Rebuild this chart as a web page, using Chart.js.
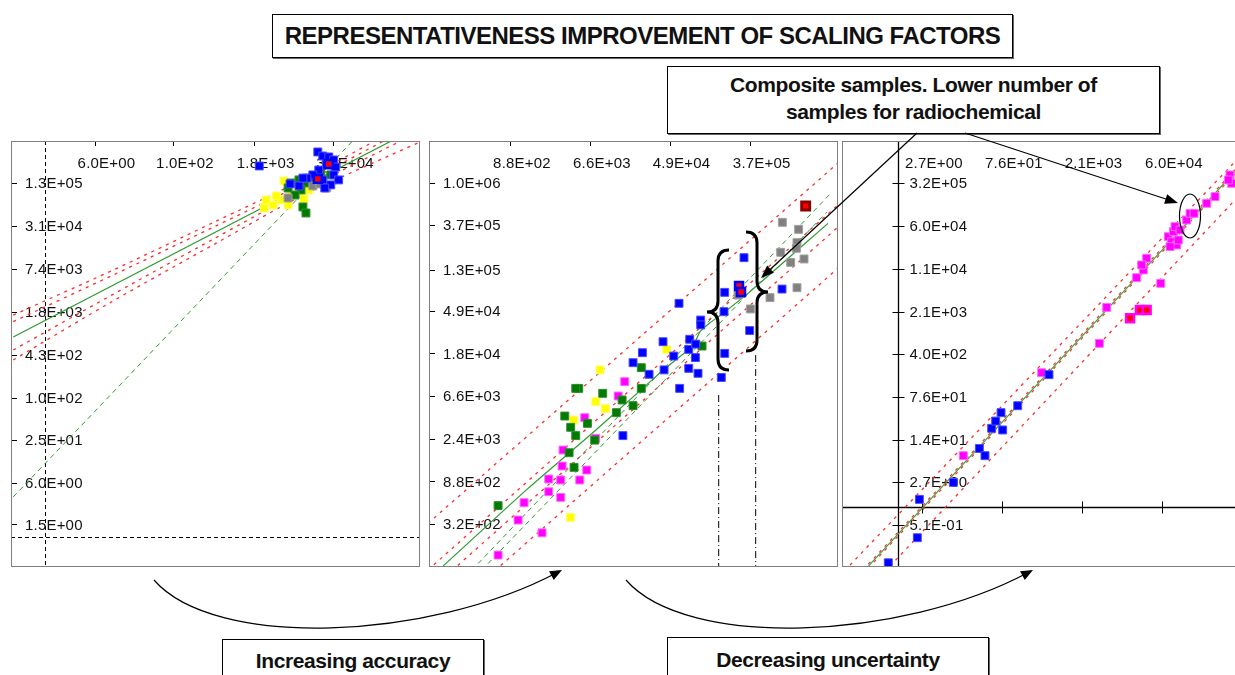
<!DOCTYPE html>
<html>
<head>
<meta charset="utf-8">
<script src="https://cdn.jsdelivr.net/npm/chart.js@4.4.0/dist/chart.umd.min.js"></script>
<style>
html, body { margin: 0; padding: 0; overflow: hidden; background: #fff; }
body { width: 1235px; height: 675px; position: relative; font-family: "Liberation Sans", Arial, sans-serif; }
.box { position: absolute; border: 1px solid #000; box-shadow: 1px 1px 0 #666; background: #fff; text-align: center; font-weight: bold; color: #111; box-sizing: border-box; white-space: nowrap; }
.panel { position: absolute; top: 141px; width: 409px; height: 426px; }
.panel canvas { position: absolute; left: 0; top: 0; }
.frame { position: absolute; left: 0; top: 0; width: 409px; height: 426px; border: 1px solid #808080; box-sizing: border-box; pointer-events: none; }
#overlay { position: absolute; left: 0; top: 0; pointer-events: none; }
</style>
</head>
<body>

<div class="box" style="left:272px;top:14px;width:741px;height:44px;line-height:41px;font-size:24px;letter-spacing:-0.5px;">REPRESENTATIVENESS IMPROVEMENT OF SCALING FACTORS</div>
<div class="box" style="left:667px;top:66px;width:493px;height:68px;padding-top:4px;line-height:27px;font-size:21px;letter-spacing:-0.4px;">Composite samples. Lower number of<br>samples for radiochemical</div>

<div class="panel" style="left:11px"><canvas id="p1" width="409" height="426"></canvas><div class="frame"></div></div>
<div class="panel" style="left:429px"><canvas id="p2" width="409" height="426"></canvas><div class="frame"></div></div>
<div class="panel" style="left:842px"><canvas id="p3" width="409" height="426"></canvas><div class="frame"></div></div>

<div class="box" style="left:222px;top:639px;width:262px;height:60px;line-height:42px;font-size:21px;letter-spacing:-0.4px;">Increasing accuracy</div>
<div class="box" style="left:667px;top:637px;width:322px;height:60px;line-height:44px;font-size:21px;letter-spacing:-0.4px;">Decreasing uncertainty</div>

<canvas id="overlay" width="1235" height="675"></canvas>

<script>
// ---- panel 1 : few samples, poor spread ----
const p1TicksX = [6.0, 100, 1800, 31000];
const p1TicksY = [1.3e5, 3.1e4, 7.4e3, 1.8e3, 430, 100, 25, 6.0, 1.5];
const p1Blue = [[2190,229000],[17860,365000],[21330,319000],[26420,309000],[31550,280000],[24600,237000],[33880,221000],[18500,200000],[14960,170000],[21330,144000],[31550,170000],[37670,144000],[28380,122000],[12080,153000],[9100,118000],[22910,110000],[6600,126000],[10470,153000]];
const p1BlueRed = [[26420,245000],[17860,149000]];
const p1Green = [[6840,130000],[9100,144000],[11670,130000],[13930,153000],[9770,103000],[19860,188000],[28380,170000],[10470,58500],[11670,47900],[7890,87100],[6150,110000]];
const p1Yellow = [[5330,139000],[2810,73800],[3610,62500],[4800,73800],[2620,56500],[6840,87100],[8770,96400],[12970,103000],[14960,122000],[18500,144000],[6150,62500],[4020,84300],[10860,76400]];
const p1Gray = [[6150,78900],[14960,118000],[24600,110000],[19180,126000]];
const p1Fit = [[0.325,771],[266000,544000]];
const p1Sf = [[0.325,3.75],[64300,544000]];
const p1Upper2 = [[0.325,1600],[11.4,7100],[398,34000],[11000,149000],[695000,1.20e6]];
const p1Upper1 = [[0.325,1285],[11.4,6010],[398,29100],[11000,130000],[695000,1.01e6]];
const p1Lower1 = [[0.325,500],[11.4,3160],[398,19500],[11000,104000],[695000,726000]];
const p1Lower2 = [[0.325,359],[11.4,2530],[398,16100],[11000,88300],[695000,509000]];

// ---- panel 2 : more samples ----
const p2TicksX = [880, 6600, 49000, 370000];
const p2TicksY = [1.0e6, 3.7e5, 1.3e5, 4.9e4, 1.8e4, 6.6e3, 2.4e3, 880, 320];
const p2Magenta = [[650,155],[1076,354],[1968,262],[1250,533],[2330,690],[2330,931],[3150,910],[3150,604],[3260,1265],[5090,910],[6070,1151],[3340,1845],[7610,2430],[5770,3955],[13400,6590],[15800,9240]];
const p2Yellow = [[8490,12200],[7610,5770],[9710,4890],[4370,3740],[45500,19800],[4020,377]];
const p2Green = [[650,497],[4960,7890],[4600,7890],[9080,7020],[3490,4110],[14800,6000],[19500,5250],[12800,4450],[4050,3150],[6170,3460],[4600,2590],[7420,2330],[3890,1730],[4410,1225],[24000,12850],[24000,7890],[110900,21400]];
const p2Blue = [[15100,2590],[24700,18300],[19500,14450],[29200,11000],[41500,23700],[42600,12200],[54300,16900],[63100,7890],[62100,58600],[81300,25100],[79300,19800],[94600,22400],[93800,16300],[79300,12650],[100200,11250],[107200,39500],[107200,35200],[180300,10200],[196300,18000],[193000,48100],[196300,75900],[319300,171800],[368300,30800],[832000,82000]];
const p2BlueRed = [[281600,88100],[296300,76600]];
const p2DarkRed = [[1.51e6,580700]];
const p2Gray = [[839000,395400],[1.265e6,335000],[1.213e6,244900],[1.194e6,214300],[805000,195000],[1.035e6,153800],[1.449e6,166700],[1.213e6,84700],[615000,67000],[374800,51300],[274800,71300]];
const p2Fit = [[163,120],[1384,747],[7430,2885],[39800,11700],[89100,21900],[105400,30000],[135500,37100],[167500,42700],[353000,74100],[2.65e6,386000]];
const p2Sf1 = [[337,109],[2.93e6,809000]];
const p2Sf2 = [[431,109],[2.58e6,505000]];
const p2OutUp = [[111,327],[3.41e6,1.60e6]];
const p2OutLow = [[597,107],[3.41e6,134000]];
const p2InUp = [[111,109],[3.41e6,595000]];
const p2InLow = [[111,64.9],[3.41e6,354000]];
const p2Mark1 = [[168700,6740],[168700,100]];
const p2Mark2 = [[428500,17300],[428500,100]];

// ---- panel 3 : composite samples ----
const p3TicksX = [2.7, 76, 2100, 60000];
const p3TicksY = [3.2e5, 6.0e4, 1.1e4, 2.1e3, 400, 76, 14, 2.7, 0.51];
const p3Blue = [[0.662,0.115],[2.22,0.306],[2.42,1.37],[9.97,2.66],[29.5,10.0],[37.3,7.55],[49.3,22.0],[58.2,29.2],[72.8,40.5],[78.0,20.6],[146,53.2],[538,179]];
const p3Magenta = [[15.1,7.55],[396,193],[4390,608],[5970,2480],[56700,6340],[20800,7920],[27500,10700],[31600,16900],[25700,13000],[78000,39300],[89700,32300],[96100,47800],[110400,28400],[118300,34500],[103000,58100],[83700,26600],[127000,51000],[167500,75300],[192600,97700],[227600,97700],[386000,144500],[547000,187500],[1.02e6,437500],[1.09e6,316000],[953000,360000]];
const p3MagentaRed = [[15800,1620],[23900,2240],[31600,2240]];
const p3Fit = [[0.288,0.101],[1.26e6,499000]];
const p3In1 = [[0.288,0.109],[1.26e6,540000]];
const p3In2 = [[0.288,0.0935],[1.26e6,461000]];
const p3OutUp = [[0.134,0.105],[1.26e6,736000]];
const p3OutLow = [[0.711,0.101],[1.26e6,165000]];

function fmt(v) {
    let e = Math.floor(Math.log10(v));
    let m = v / Math.pow(10, e);
    if (Math.round(m * 10) >= 100) { m /= 10; e += 1; }
    const s = e < 0 ? '-' : '+';
    return m.toFixed(1) + 'E' + s + String(Math.abs(e)).padStart(2, '0');
}

// tick marks, labels and the unit axes, placed with the chart's scales
const axesPlugin = {
    id: 'panelAxes',
    beforeDatasetsDraw(chart, args, opts) {
        const ctx = chart.ctx, xs = chart.scales.x, ys = chart.scales.y, a = chart.chartArea;
        const ax = Math.round(xs.getPixelForValue(1)) + 0.5;
        const ay = Math.round(ys.getPixelForValue(1)) + 0.5;
        ctx.save();
        ctx.strokeStyle = '#000';
        ctx.lineWidth = 1;
        if (opts.unitAxes) {
            ctx.setLineDash(opts.unitAxes === 'dashed' ? [4, 3] : []);
            ctx.lineWidth = opts.unitAxes === 'dashed' ? 1 : 1.3;
            ctx.beginPath();
            ctx.moveTo(ax, a.top); ctx.lineTo(ax, a.bottom);
            ctx.moveTo(a.left, ay); ctx.lineTo(a.right, ay);
            ctx.stroke();
            ctx.setLineDash([]);
        }
        ctx.lineWidth = 1;
        ctx.beginPath();
        opts.ticksX.forEach(v => {
            const x = Math.round(xs.getPixelForValue(v)) + 0.5;
            if (opts.onAxes) { ctx.moveTo(x, ay - 6); ctx.lineTo(x, ay + 6); }
            else { ctx.moveTo(x, a.top); ctx.lineTo(x, a.top + 5); }
        });
        opts.ticksY.forEach(v => {
            const y = Math.round(ys.getPixelForValue(v)) + 0.5;
            if (opts.onAxes) { ctx.moveTo(ax - 6, y); ctx.lineTo(ax + 6, y); }
            else { ctx.moveTo(a.left + 1, y); ctx.lineTo(a.left + 6, y); }
        });
        ctx.stroke();

        ctx.fillStyle = '#111';
        ctx.font = '15px "Liberation Sans", Arial, sans-serif';
        ctx.letterSpacing = '0.2px';
        ctx.textAlign = 'left';
        ctx.textBaseline = 'middle';
        opts.ticksX.forEach(v => {
            ctx.fillText(fmt(v), xs.getPixelForValue(v) - 17, a.top + 23);
        });
        const lx = opts.onAxes ? ax + 11 : a.left + 14;
        opts.ticksY.forEach(v => {
            ctx.fillText(fmt(v), lx, ys.getPixelForValue(v) + 1);
        });
        ctx.restore();
    }
};

function pts(data, fill, edge, order, width) {
    return {
        data: data.map(([x, y]) => ({ x, y })),
        backgroundColor: fill,
        borderColor: edge,
        borderWidth: width || 1,
        pointStyle: 'rect',
        pointRadius: 5.6,
        showLine: false,
        order: order
    };
}

function line(data, color, dash, width, tension) {
    return {
        data: data.map(([x, y]) => ({ x, y })),
        showLine: true,
        borderColor: color,
        borderWidth: width || 1,
        borderDash: dash || [],
        pointRadius: 0,
        fill: false,
        tension: tension || 0,
        order: 20
    };
}

const RED = '#ff2a2a', RED_DASH = [3, 5];
const GREEN = '#2f9a2f', GREEN_DASH = [5, 4];

function makePanel(id, datasets, xr, yr, axisOpts) {
    return new Chart(document.getElementById(id), {
        type: 'scatter',
        data: { datasets },
        options: {
            responsive: false,
            animation: false,
            events: [],
            layout: { padding: 0, autoPadding: false },
            plugins: { legend: { display: false }, tooltip: { enabled: false }, panelAxes: axisOpts },
            scales: {
                x: { type: 'logarithmic', min: xr[0], max: xr[1], display: false },
                y: { type: 'logarithmic', min: yr[0], max: yr[1], display: false }
            }
        },
        plugins: [axesPlugin]
    });
}

makePanel('p1', [
    pts(p1BlueRed, '#ff0000', '#0000ff', 0, 2.5),
    pts(p1Blue, '#0000ff', '#4a4aff', 1),
    pts(p1Gray, '#808080', '#a0a0a0', 2),
    pts(p1Green, '#007a00', '#2e8f2e', 3),
    pts(p1Yellow, '#ffff00', '#ffff70', 4),
    line(p1Fit, GREEN, [], 1.2),
    line(p1Sf, GREEN, GREEN_DASH, 1),
    line(p1Upper2, RED, RED_DASH, 1.3, 0.3),
    line(p1Upper1, RED, RED_DASH, 1.3, 0.3),
    line(p1Lower1, RED, RED_DASH, 1.3, 0.3),
    line(p1Lower2, RED, RED_DASH, 1.3, 0.3)
], [0.337, 6.95e5], [0.364, 5.26e5], { ticksX: p1TicksX, ticksY: p1TicksY, unitAxes: 'dashed', onAxes: false });

makePanel('p2', [
    pts(p2DarkRed, '#ff0000', '#8b0000', 0, 3),
    pts(p2BlueRed, '#ff0000', '#0000ff', 0, 2.5),
    pts(p2Blue, '#0000ff', '#4a4aff', 1),
    pts(p2Gray, '#808080', '#a0a0a0', 2),
    pts(p2Green, '#007a00', '#2e8f2e', 3),
    pts(p2Yellow, '#ffff00', '#ffff70', 4),
    pts(p2Magenta, '#ff00ff', '#ff6aff', 5),
    line(p2Fit, GREEN, [], 1.2, 0.2),
    line(p2Sf1, GREEN, GREEN_DASH, 1),
    line(p2Sf2, GREEN, GREEN_DASH, 1),
    line(p2OutUp, RED, RED_DASH, 1.3),
    line(p2OutLow, RED, RED_DASH, 1.3),
    line(p2InUp, RED, RED_DASH, 1.3),
    line(p2InLow, RED, RED_DASH, 1.3),
    line(p2Mark1, '#000', [7, 3, 1, 3], 1),
    line(p2Mark2, '#000', [7, 3, 1, 3], 1)
], [114, 3.41e6], [117, 2.69e6], { ticksX: p2TicksX, ticksY: p2TicksY, unitAxes: null, onAxes: false });

makePanel('p3', [
    pts(p3MagentaRed, '#ff0000', '#ff00ff', 0, 2.5),
    pts(p3Blue, '#0000ff', '#4a4aff', 1),
    pts(p3Magenta, '#ff00ff', '#ff6aff', 2),
    line(p3Fit, '#3c9e3c', [], 1.2),
    line(p3In1, RED, RED_DASH, 1.2),
    line(p3In2, RED, RED_DASH, 1.2),
    line(p3OutUp, RED, RED_DASH, 1.3),
    line(p3OutLow, RED, RED_DASH, 1.3)
], [0.096, 2.45e6], [0.0975, 1.65e6], { ticksX: p3TicksX, ticksY: p3TicksY, unitAxes: 'solid', onAxes: true });

// ---- callouts: arrows, braces, ellipse ----
const ov = document.getElementById('overlay').getContext('2d');

function head(x, y, ang, len, half) {
    ov.beginPath();
    ov.moveTo(x, y);
    ov.lineTo(x - len * Math.cos(ang) + half * Math.sin(ang), y - len * Math.sin(ang) - half * Math.cos(ang));
    ov.lineTo(x - len * Math.cos(ang) - half * Math.sin(ang), y - len * Math.sin(ang) + half * Math.cos(ang));
    ov.closePath();
    ov.fill();
}

function arrow(x1, y1, x2, y2) {
    const ang = Math.atan2(y2 - y1, x2 - x1);
    ov.beginPath();
    ov.moveTo(x1, y1);
    ov.lineTo(x2 - 8 * Math.cos(ang), y2 - 8 * Math.sin(ang));
    ov.stroke();
    head(x2, y2, ang, 13, 5);
}

function curved(x1, y1, c1x, c1y, c2x, c2y, x2, y2) {
    const ang = Math.atan2(y2 - c2y, x2 - c2x);
    ov.beginPath();
    ov.moveTo(x1, y1);
    ov.bezierCurveTo(c1x, c1y, c2x, c2y, x2 - 6 * Math.cos(ang), y2 - 6 * Math.sin(ang));
    ov.stroke();
    head(x2, y2, ang, 12, 5);
}

function brace(xEnd, xMid, xTip, yTop, yTip, yBot) {
    const r = 11;
    ov.beginPath();
    ov.moveTo(xEnd, yTop);
    ov.quadraticCurveTo(xMid, yTop, xMid, yTop + r);
    ov.lineTo(xMid, yTip - r);
    ov.quadraticCurveTo(xMid, yTip, xTip, yTip);
    ov.quadraticCurveTo(xMid, yTip, xMid, yTip + r);
    ov.lineTo(xMid, yBot - r);
    ov.quadraticCurveTo(xMid, yBot, xEnd, yBot);
    ov.stroke();
}

ov.strokeStyle = '#000';
ov.fillStyle = '#000';
ov.lineWidth = 1.2;
arrow(917, 133, 761, 278);
arrow(965, 133, 1178, 203);
curved(154, 580, 215, 650, 430, 640, 562, 570);
curved(626, 580, 687, 650, 902, 640, 1033, 570);

ov.beginPath();
ov.ellipse(1190, 216, 10.5, 22, 0, 0, Math.PI * 2);
ov.stroke();

ov.lineWidth = 3;
brace(729, 718, 707, 250, 312, 370);
brace(746, 757, 768, 232, 292, 351);
</script>
</body>
</html>
